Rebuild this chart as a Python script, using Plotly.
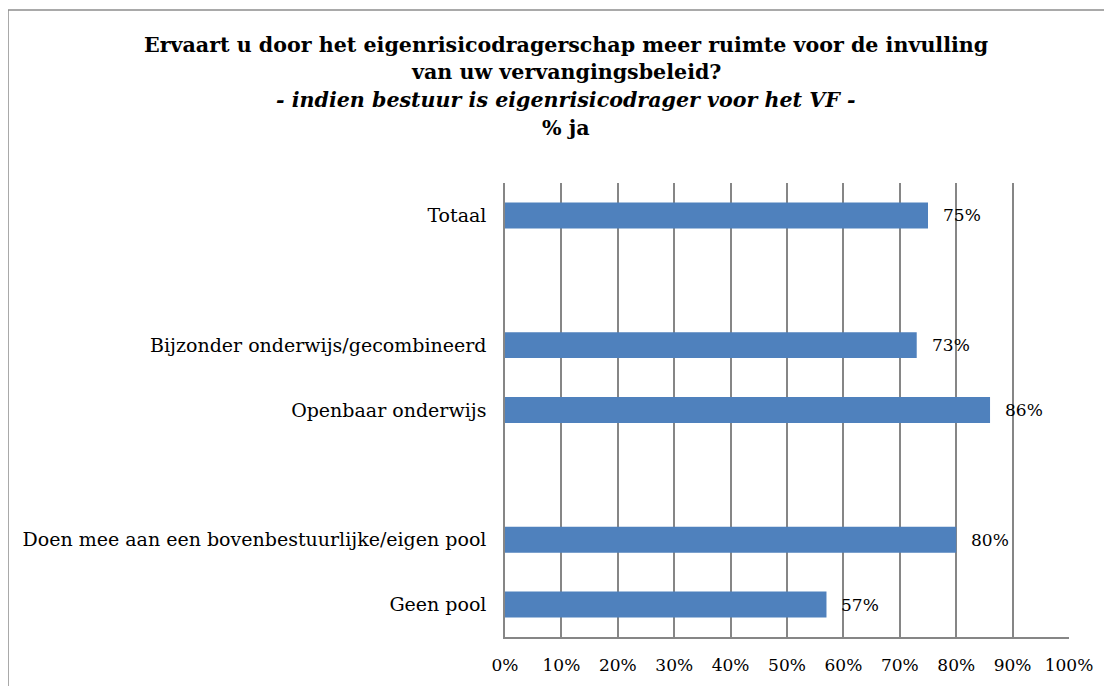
import plotly.graph_objects as go

categories = ["Totaal", " ", "Bijzonder onderwijs/gecombineerd", "Openbaar onderwijs", "  ",
              "Doen mee aan een bovenbestuurlijke/eigen pool", "Geen pool"]
values = [75, None, 73, 86, None, 80, 57]
labels = ["75%", "", "73%", "86%", "", "80%", "57%"]
tick_vals = [0, 10, 20, 30, 40, 50, 60, 70, 80, 90, 100]
tick_text = ["0%", "10%", "20%", "30%", "40%", "50%", "60%", "70%", "80%", "90%", "100%"]
title_lines = ["<b>Ervaart u door het eigenrisicodragerschap meer ruimte voor de invulling</b>",
               "<b>van uw vervangingsbeleid?</b>",
               "<b><i>- indien bestuur is eigenrisicodrager voor het VF -</i></b>",
               "<b>% ja</b>"]

FONT = "DejaVu Serif"
OFF = 8  # page body margin
W, H = 1112 - OFF, 686 - OFF
L, R, T, B = 505 - OFF, 1069 - OFF, 183 - OFF, 637 - OFF

fig = go.Figure()
fig.add_trace(go.Bar(
    y=categories, x=values, orientation="h",
    marker=dict(color="#4F81BD", line=dict(width=0)),
    width=0.4, hoverinfo="skip",
))

for c, v, t in zip(categories, values, labels):
    if v is None:
        continue
    fig.add_annotation(x=v, y=c, text=t, showarrow=False, xanchor="left",
                       xshift=13, font=dict(family=FONT, size=17, color="#000"))

title_y_px = [45, 72, 100, 128]  # page pixel centres of the title lines
for line, ypx in zip(title_lines, title_y_px):
    fig.add_annotation(text=line, xref="paper", yref="paper",
                       x=(566 - 505) / (R - L), y=1 + (183 - ypx) / (B - T),
                       xanchor="center", yanchor="middle", showarrow=False,
                       font=dict(family=FONT, size=20.6, color="#000"))

# frame
fx = (8 - 505) / (R - L)
fy = 1 + (183 - 10) / (B - T)
fig.add_shape(type="line", xref="paper", yref="paper",
              x0=fx, x1=fx, y0=fy, y1=-1,
              line=dict(color="#8c8c8c", width=1.5))
fig.add_shape(type="line", xref="paper", yref="paper",
              x0=fx, x1=2, y0=fy, y1=fy,
              line=dict(color="#8c8c8c", width=1.5))

fig.update_layout(
    width=W, height=H,
    margin=dict(l=L, r=W - R, t=T, b=H - B, autoexpand=False),
    paper_bgcolor="white", plot_bgcolor="white",
    showlegend=False, bargap=0.6,
    font=dict(family=FONT, size=17, color="#000"),
    xaxis=dict(range=[0, 100], tickvals=tick_vals, ticktext=tick_text,
               showgrid=True, gridcolor="#868686", gridwidth=1.5,
               showline=True, linecolor="#868686", linewidth=1.5,
               zeroline=False, ticks="", ticklabelstandoff=12,
               tickfont=dict(family=FONT, size=17)),
    yaxis=dict(categoryorder="array", categoryarray=categories, autorange="reversed",
               showgrid=False, showline=True, linecolor="#868686", linewidth=1.5,
               ticks="", ticklabelstandoff=13, tickfont=dict(family=FONT, size=19)),
)
fig.write_html("out.html")
